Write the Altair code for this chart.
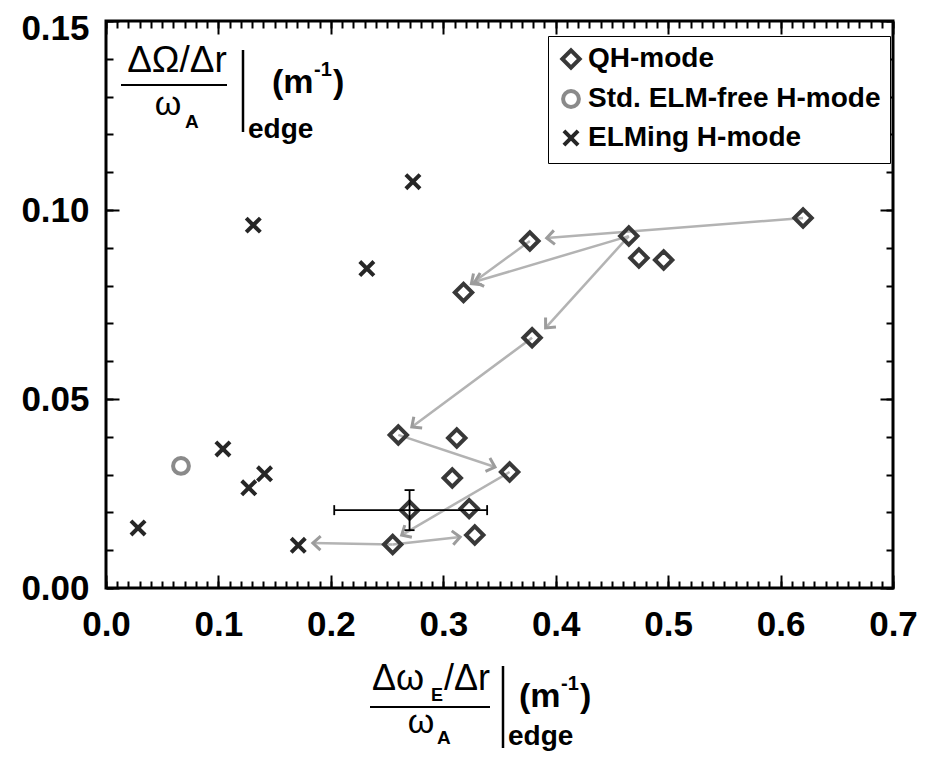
import math
import pandas as pd
import altair as alt

# ---------------- data ----------------
modes = ["QH-mode", "Std. ELM-free H-mode", "ELMing H-mode"]

qh_x = [0.620, 0.465, 0.474, 0.496, 0.377, 0.318, 0.379, 0.260, 0.312, 0.359, 0.308, 0.270, 0.323, 0.328, 0.255]
qh_y = [0.0979, 0.0931, 0.0873, 0.0868, 0.0918, 0.0782, 0.0662, 0.0405, 0.0397, 0.0307, 0.0291, 0.0206, 0.0210, 0.0140, 0.0115]

std_x = [0.0667]
std_y = [0.0323]

elm_x = [0.273, 0.131, 0.232, 0.104, 0.127, 0.141, 0.0285, 0.171]
elm_y = [0.1075, 0.0960, 0.0845, 0.0368, 0.0265, 0.0302, 0.0159, 0.0113]

# time-evolution arrows (start -> arrow tip)
arrow_x0 = [0.620, 0.377, 0.465, 0.465, 0.379, 0.260, 0.359, 0.255, 0.255]
arrow_y0 = [0.0979, 0.0918, 0.0931, 0.0931, 0.0662, 0.0405, 0.0307, 0.0115, 0.0115]
arrow_x1 = [0.392, 0.325, 0.328, 0.391, 0.272, 0.346, 0.263, 0.315, 0.184]
arrow_y1 = [0.0926, 0.0805, 0.0810, 0.0688, 0.0426, 0.0320, 0.0140, 0.0135, 0.0119]

# error bar on one QH point
err_x, err_y = 0.270, 0.0206
err_xlo, err_xhi = 0.203, 0.339
err_ylo, err_yhi = 0.0153, 0.0259

x_major = [0.0, 0.1, 0.2, 0.3, 0.4, 0.5, 0.6, 0.7]
x_minor = [round(i * 0.01, 2) for i in range(71)]
y_major = [0.0, 0.05, 0.10, 0.15]
y_minor = [round(i * 0.01, 2) for i in range(16)]

ytitle_parts = ["\u0394\u03a9/\u0394r", "\u03c9", "A", "(m", "-1", ")", "edge"]
xtitle_parts = ["\u0394\u03c9", "E", "/\u0394r", "\u03c9", "A", "(m", "-1", ")", "edge"]

# ---------------- layout / style ----------------
W, H = 787, 567
XMAX, YMAX = 0.7, 0.15
BOLD = "Liberation Sans, Arial, sans-serif"
REG = "Liberation Sans, Arial, sans-serif"
XPATH = "M-1,-1L1,1M-1,1L1,-1"
CHEVRON = "M-1.1,-1L0,0L-1.1,1"
CAP = "M0,-1L0,1"

xs = alt.Scale(domain=[0, XMAX], nice=False, zero=False)
ys = alt.Scale(domain=[0, YMAX], nice=False, zero=False)


def tick_axis(orient, offset, values, size):
    return alt.Axis(orient=orient, offset=offset, values=values, labels=False, ticks=True,
                    tickSize=size, tickWidth=2, tickColor="black", domain=False,
                    grid=False, title=None)


pts = pd.DataFrame({
    "x": qh_x + std_x + elm_x,
    "y": qh_y + std_y + elm_y,
    "mode": [modes[0]] * len(qh_x) + [modes[1]] * len(std_x) + [modes[2]] * len(elm_x),
})

arrows = pd.DataFrame({"x0": arrow_x0, "y0": arrow_y0, "x1": arrow_x1, "y1": arrow_y1})
angles = []
for a, b, c, d in zip(arrow_x0, arrow_y0, arrow_x1, arrow_y1):
    dx = (c - a) / XMAX * W
    dy = -(d - b) / YMAX * H
    angles.append((math.degrees(math.atan2(dy, dx)) + 360) % 360)
arrows["ang"] = angles

errs = pd.DataFrame({"x": [err_xlo, err_x], "x2": [err_xhi, err_x],
                     "y": [err_y, err_ylo], "y2": [err_y, err_yhi]})
caps = pd.DataFrame({"x": [err_xlo, err_xhi, err_x, err_x],
                     "y": [err_y, err_y, err_ylo, err_yhi],
                     "ang": [0, 0, 90, 90]})

arrow_lines = alt.Chart(arrows).mark_rule(color="#b3b3b3", strokeWidth=2.5).encode(
    x=alt.X("x0:Q", scale=xs, axis=tick_axis("top", -H, x_minor, 7)),
    y=alt.Y("y0:Q", scale=ys, axis=tick_axis("right", -W, y_minor, 7)),
    x2="x1:Q", y2="y1:Q",
)

arrow_heads = alt.Chart(arrows).mark_point(shape=CHEVRON, size=196, filled=False, strokeWidth=3,
                                           color="#9c9c9c", opacity=1).encode(
    x=alt.X("x1:Q", scale=xs, axis=tick_axis("top", -H, x_major, 13)),
    y=alt.Y("y1:Q", scale=ys, axis=tick_axis("right", -W, y_major, 13)),
    angle=alt.Angle("ang:Q", scale=None),
)

leg = alt.Legend(title=None, orient="none", legendX=442, legendY=15, direction="vertical",
                 strokeColor="black", fillColor="white", padding=9,
                 labelFont=BOLD, labelFontSize=28, labelFontWeight="bold", labelColor="black",
                 labelOffset=3, rowPadding=7, symbolStrokeWidth=4, labelLimit=600)

points = alt.Chart(pts).mark_point(filled=False, strokeWidth=4, opacity=1).encode(
    x=alt.X("x:Q", scale=xs, axis=alt.Axis(orient="bottom", values=x_major, format=".1f",
                                           labelFont=BOLD, labelFontSize=35, labelFontWeight="bold",
                                           labelColor="black", labelPadding=19, ticks=False, tickSize=0,
                                           domain=False, grid=False, title=None, labelFlush=False,
                                           labelOverlap=False)),
    y=alt.Y("y:Q", scale=ys, axis=alt.Axis(orient="left", values=y_major, format=".2f",
                                           labelFont=BOLD, labelFontSize=35, labelFontWeight="bold",
                                           labelColor="black", labelPadding=17, ticks=False, tickSize=0,
                                           domain=False, grid=False, title=None, labelFlush=False,
                                           labelOverlap=False,
                                           labelOffset={"condition": {"test": "datum.value > 0.14", "value": 7},
                                                        "value": 0})),
    shape=alt.Shape("mode:N", scale=alt.Scale(domain=modes, range=["diamond", "circle", XPATH]), legend=leg),
    color=alt.Color("mode:N", scale=alt.Scale(domain=modes, range=["#383838", "#8a8a8a", "#262626"]), legend=leg),
    size=alt.Size("mode:N", scale=alt.Scale(domain=modes, range=[300, 200, 270]), legend=leg),
)

err_rules = alt.Chart(errs).mark_rule(color="black", strokeWidth=1.8).encode(
    x=alt.X("x:Q", scale=xs, axis=tick_axis("bottom", -H, x_minor, 7)),
    y=alt.Y("y:Q", scale=ys, axis=tick_axis("left", -W, y_minor, 7)),
    x2="x2:Q", y2="y2:Q",
)

err_caps = alt.Chart(caps).mark_point(shape=CAP, size=100, filled=False, strokeWidth=1.8,
                                      color="black", opacity=1).encode(
    x=alt.X("x:Q", scale=xs, axis=tick_axis("bottom", -H, x_major, 13)),
    y=alt.Y("y:Q", scale=ys, axis=tick_axis("left", -W, y_major, 13)),
    angle=alt.Angle("ang:Q", scale=None),
)


def txt(s, x, y, size, weight="normal", font=REG, align="left"):
    return alt.Chart(pd.DataFrame({"t": [s]})).mark_text(
        align=align, baseline="alphabetic", font=font, fontSize=size, fontWeight=weight, color="black"
    ).encode(text="t:N", x=alt.value(x), y=alt.value(y))


def hline(x1, x2, y, w):
    return alt.Chart(pd.DataFrame({"a": [0]})).mark_rule(color="black", strokeWidth=w).encode(
        x=alt.value(x1), x2=alt.value(x2), y=alt.value(y))


def vline(x, y1, y2, w):
    return alt.Chart(pd.DataFrame({"a": [0]})).mark_rule(color="black", strokeWidth=w).encode(
        x=alt.value(x), y=alt.value(y1), y2=alt.value(y2))


yt = ytitle_parts
ytitle = [
    txt(yt[0], 71, 51, 37, align="center"),
    hline(15, 121, 64, 2),
    txt(yt[1], 62, 94, 34, align="center"),
    txt(yt[2], 79, 107, 19, "bold", BOLD),
    vline(137, 29, 111, 2.5),
    txt(yt[3], 166, 72, 34, "bold", BOLD),
    txt(yt[4], 208, 55, 20, "bold", BOLD),
    txt(yt[5], 227, 72, 34, "bold", BOLD),
    txt(yt[6], 142, 117, 28, "bold", BOLD),
]

xt = xtitle_parts
xtitle = [
    txt(xt[0], 266, 669, 36),
    txt(xt[1], 325, 680, 18, "bold", BOLD),
    txt(xt[2], 338, 669, 36),
    hline(264, 384, 686, 2),
    txt(xt[3], 315, 712, 34, align="center"),
    txt(xt[4], 331, 723, 19, "bold", BOLD),
    vline(397, 645, 727, 2.5),
    txt(xt[5], 413, 686, 34, "bold", BOLD),
    txt(xt[6], 455, 669, 20, "bold", BOLD),
    txt(xt[7], 474, 686, 34, "bold", BOLD),
    txt(xt[8], 402, 724, 28, "bold", BOLD),
]

chart = alt.layer(
    arrow_lines, arrow_heads, points, err_rules, err_caps, *ytitle, *xtitle
).resolve_scale(x="shared", y="shared").resolve_axis(x="independent", y="independent").properties(
    width=W, height=H,
    autosize=alt.AutoSizeParams(type="none"),
    padding={"left": 98, "top": 13, "right": 34, "bottom": 163},
).configure_view(stroke="black", strokeWidth=3).configure_axis(grid=False)

chart.save("out.html", embed_options={"renderer": "svg", "actions": False})
